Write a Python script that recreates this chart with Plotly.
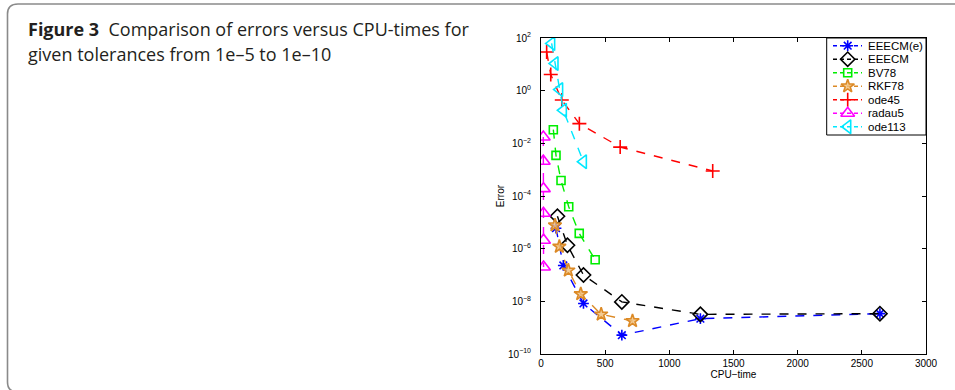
import plotly.graph_objects as go

# CPU-time vs. error for each integrator (tolerances 1e-5 ... 1e-10)
eeecm_e_t = [117, 174, 331, 630, 1242, 2641]
eeecm_e_err = [6.0e-6, 2.3e-7, 8.3e-9, 5.2e-10, 2.2e-9, 3.4e-9]

eeecm_t = [128, 206, 331, 630, 1242, 2641]
eeecm_err = [1.7e-5, 1.35e-6, 1.0e-7, 9.5e-9, 3.2e-9, 3.4e-9]

bv78_t = [96, 117, 156, 216, 298, 422]
bv78_err = [3.3e-2, 3.5e-3, 3.9e-4, 3.9e-5, 3.8e-6, 3.8e-7]

rkf78_t = [109, 143, 213, 310, 469, 713]
rkf78_err = [7.8e-6, 1.2e-6, 1.5e-7, 1.9e-8, 3.2e-9, 1.8e-9]

ode45_t = [44, 76, 162, 299, 617, 1338]
ode45_err = [29.5, 4.1, 0.44, 0.056, 7.2e-3, 8.9e-4]

radau5_t = [18, 18, 19, 19, 20, 20]
radau5_err = [1.74e-2, 2.1e-3, 1.9e-4, 2.2e-5, 2.1e-6, 2.0e-7]

ode113_t = [83, 109, 145, 174, 330]
ode113_err = [62, 10.7, 1.1, 0.18, 2.0e-3]

x_ticks = [0, 500, 1000, 1500, 2000, 2500, 3000]
y_tick_exp = [2, 0, -2, -4, -6, -8, -10]

W, H = 955, 390
L, R, T, B = 541, 29, 38, 36
PW, PH = W - L - R, H - T - B


def px(x):
    return (x - L) / PW


def py(y):
    return (H - B - y) / PH


series = [
    ("EEECM(e)", eeecm_e_t, eeecm_e_err, "#0000ff", "asterisk-open", 9, None),
    ("EEECM", eeecm_t, eeecm_err, "#000000", "diamond-open", 11, None),
    ("BV78", bv78_t, bv78_err, "#00ee00", "square-open", 8, None),
    ("RKF78", rkf78_t, rkf78_err, "#dc8a26", "star", 10, "rgba(240,190,120,0.8)"),
    ("ode45", ode45_t, ode45_err, "#ff0000", "cross-thin-open", 10, None),
    ("radau5", radau5_t, radau5_err, "#ff00ff", "triangle-up-open", 12, None),
    ("ode113", ode113_t, ode113_err, "#00e8ff", "triangle-left-open", 12, None),
]

axis_font = "Arial, Liberation Sans, sans-serif"

fig = go.Figure()
for name, xs, ys, col, sym, size, fill in series:
    fig.add_trace(go.Scatter(
        x=xs, y=ys, name=name, mode="lines+markers", showlegend=False,
        line=dict(color=col, width=1.4, dash="dash"),
        marker=dict(symbol=sym, size=size,
                    color=fill if fill else col,
                    line=dict(color=col, width=1.6)),
    ))

# Legend box drawn on its own pixel-scaled axes in the upper-right corner
LG_X0, LG_X1, LG_Y0, LG_Y1 = 826.7, 926, 38, 135
row_y0, row_dy = 45.7, 13.5
seg_x0, seg_x1, sym_x, txt_x = 833, 862, 847.7, 865.5

annotations = []
for i, (name, xs, ys, col, sym, size, fill) in enumerate(series):
    yy = row_y0 + i * row_dy
    fig.add_trace(go.Scatter(
        x=[seg_x0, seg_x1], y=[yy, yy], mode="lines", showlegend=False,
        hoverinfo="skip", xaxis="x2", yaxis="y2",
        line=dict(color=col, width=1.4, dash="4px,3px"),
    ))
    fig.add_trace(go.Scatter(
        x=[sym_x], y=[yy], mode="markers", showlegend=False,
        hoverinfo="skip", xaxis="x2", yaxis="y2",
        marker=dict(symbol=sym, size=size, color=fill if fill else col,
                    line=dict(color=col, width=1.6)),
    ))
    annotations.append(dict(
        xref="x2", yref="y2", x=txt_x, y=yy, xanchor="left", yanchor="middle",
        showarrow=False, text=name, font=dict(family=axis_font, size=11.5, color="#000")))

tick_font = dict(family=axis_font, size=10, color="#000")


def clamp(v):
    return min(1.0, max(0.0, v))


fig.update_layout(
    xaxis=dict(
        type="linear", range=[0, 3000], tickvals=x_ticks,
        ticktext=[str(v) for v in x_ticks],
        ticks="inside", ticklen=4, tickcolor="#000", tickwidth=1,
        showline=True, linecolor="#000", linewidth=1, mirror="ticks",
        showgrid=False, zeroline=False, tickfont=tick_font,
        title=dict(text="CPU\u2212time", font=dict(family=axis_font, size=10, color="#000"), standoff=2),
    ),
    yaxis=dict(
        type="log", range=[-10, 2], tickvals=[10 ** e for e in y_tick_exp],
        ticktext=["10<sup>%s</sup>" % (str(e).replace("-", "\u2212")) for e in y_tick_exp],
        ticks="inside", ticklen=4, tickcolor="#000", tickwidth=1,
        showline=True, linecolor="#000", linewidth=1, mirror="ticks",
        showgrid=False, zeroline=False, tickfont=tick_font, ticklabelstandoff=7,
        title=dict(text="Error", font=dict(family=axis_font, size=10, color="#000"), standoff=1),
    ),
    xaxis2=dict(domain=[clamp(px(LG_X0)), clamp(px(LG_X1))], range=[LG_X0, LG_X1],
                visible=False, anchor="y2", fixedrange=True),
    yaxis2=dict(domain=[clamp(py(LG_Y1)), clamp(py(LG_Y0))], range=[LG_Y1, LG_Y0],
                visible=False, anchor="x2", fixedrange=True),
)

# rounded frame around the figure (left and top edges visible)
frame = "M {x1},{yt} L {xa},{yt} Q {xl},{yt} {xl},{yb1} L {xl},{yb2} Q {xl},{yb} {xa},{yb}".format(
    x1=px(965), yt=py(4), xa=px(18), xl=px(7.5), yb1=py(14), yb2=py(382), yb=py(392))

annotations += [
    dict(xref="paper", yref="paper", x=px(26), y=py(28.5), xanchor="left", yanchor="middle",
         showarrow=False, align="left",
         text="<b>Figure 3</b>  Comparison of errors versus CPU-times for",
         font=dict(family="Open Sans, sans-serif", size=18, color="#231f20")),
    dict(xref="paper", yref="paper", x=px(26), y=py(53.5), xanchor="left", yanchor="middle",
         showarrow=False, align="left",
         text="given tolerances from 1e\u20135 to 1e\u201310",
         font=dict(family="Open Sans, sans-serif", size=18, color="#231f20")),
]

fig.update_layout(
    width=W, height=H, autosize=False,
    margin=dict(l=L, r=R, t=T, b=B, pad=0),
    paper_bgcolor="white", plot_bgcolor="white",
    showlegend=False,
    shapes=[
        dict(type="path", xref="paper", yref="paper", path=frame,
             line=dict(color="#8a8a8a", width=1.6), layer="above"),
        dict(type="rect", xref="paper", yref="paper",
             x0=clamp(px(LG_X0)), x1=clamp(px(LG_X1)), y0=clamp(py(LG_Y1)), y1=clamp(py(LG_Y0)),
             line=dict(color="#000", width=1), fillcolor="rgba(0,0,0,0)", layer="above"),
    ],
    annotations=annotations,
)

fig.write_html("out.html")
